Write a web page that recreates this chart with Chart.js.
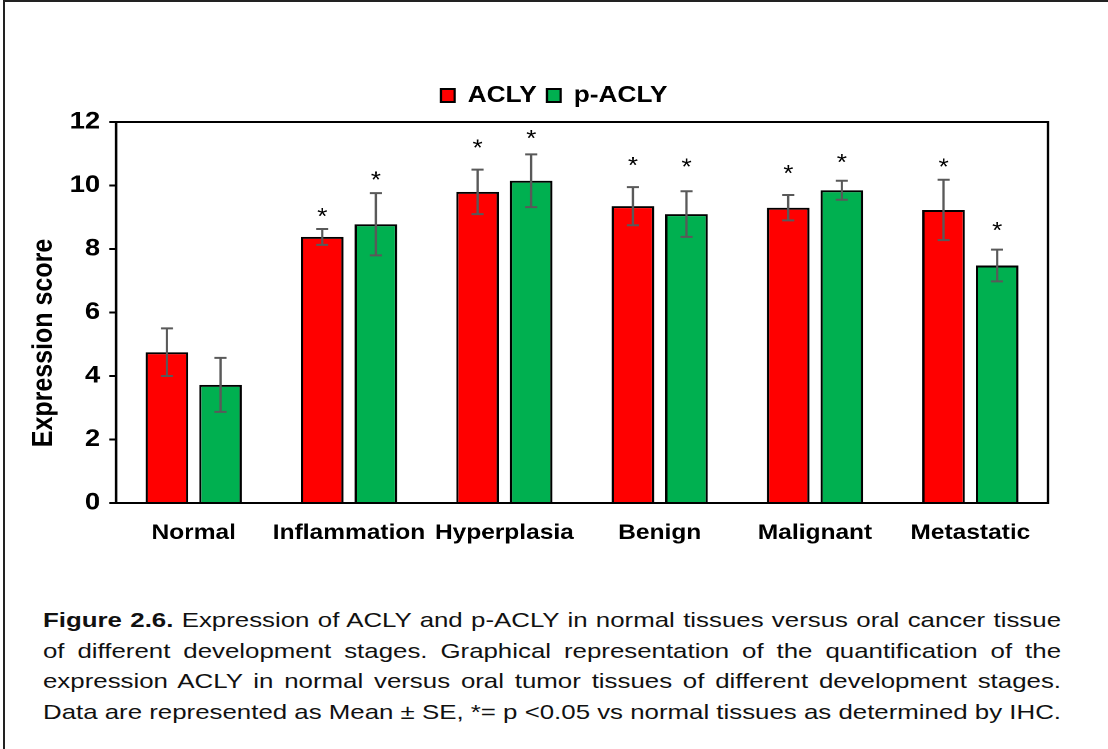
<!DOCTYPE html>
<html>
<head>
<meta charset="utf-8">
<script src="https://cdn.jsdelivr.net/npm/chart.js@4.4.1/dist/chart.umd.min.js"></script>
<style>
  html, body { margin: 0; padding: 0; background: #fff; }
  body { width: 1108px; height: 749px; position: relative; overflow: hidden; font-family: "Liberation Sans", Arial, sans-serif; }
  #frame { position: absolute; left: 3px; top: 0px; width: 1200px; height: 800px; border-left: 2px solid #222; border-top: 2px solid #222; }
  /* the figure is laid out narrow and widened 1.14x, giving its wide lettering */
  #wrap { position: absolute; left: 0; top: 0; width: 972px; height: 560px; transform: scaleX(1.14); transform-origin: 0 0; }
  #caption { position: absolute; left: 43px; top: 605px; width: 893px; font-size: 21px; line-height: 30.5px; color: #111;
             transform: scaleX(1.14); transform-origin: 0 0; }
  #caption div { text-align: justify; text-align-last: justify; white-space: nowrap; }
  #caption b { font-weight: bold; }
  .probe { position: absolute; visibility: hidden; white-space: nowrap; font-size: 21px; font-family: "Liberation Sans", Arial, sans-serif; }
</style>
</head>
<body>
<div id="frame"></div>
<div id="wrap"><canvas id="chart"></canvas></div>
<div id="caption">
  <div><b>Figure 2.6.</b> Expression of ACLY and p-ACLY in normal tissues versus oral cancer tissue</div>
  <div>of different development stages. Graphical representation of the quantification of the</div>
  <div>expression ACLY in normal versus oral tumor tissues of different development stages.</div>
  <div>Data are represented as Mean ± SE, *= p &lt;0.05 vs normal tissues as determined by IHC.</div>
</div>
<script>
// Tissue stages on the x axis
const categories = ['Normal', 'Inflammation', 'Hyperplasia', 'Benign', 'Malignant', 'Metastatic'];

// Mean expression score and standard error per stage
const aclyMean  = [4.75, 8.38, 9.80, 9.35, 9.30, 9.23];
const aclySE    = [0.75, 0.25, 0.70, 0.60, 0.40, 0.95];
const paclyMean = [3.72, 8.78, 10.15, 9.10, 9.85, 7.48];
const paclySE   = [0.85, 0.98, 0.83, 0.72, 0.30, 0.50];

// Height (in score units) of the significance asterisk above each bar; null = not significant
const aclyStar  = [null, 9.20, 11.35, 10.80, 10.55, 10.75];
const paclyStar = [null, 10.35, 11.65, 10.75, 10.90, 8.75];

// Y axis range, step and title
const yMin = 0, yMax = 12, yStep = 2;
const yTitle = 'Expression score';

const FONT = '"Liberation Sans", Arial, sans-serif';
const LEGEND_HEIGHT = 47;
const LEGEND_SHIFT = 26.5;

// Caption: fit the widest line to the text block width, the others are justified
(function fitCaption() {
  const cap = document.getElementById('caption');
  const lines = cap.querySelectorAll('div');
  let maxW = 0;
  lines.forEach(l => {
    const p = document.createElement('span');
    p.className = 'probe';
    p.innerHTML = l.innerHTML;
    document.body.appendChild(p);
    maxW = Math.max(maxW, p.getBoundingClientRect().width);
    p.remove();
  });
  cap.style.width = maxW + 'px';
  cap.style.transform = 'scaleX(' + (1018 / maxW) + ')';
})();

// Error bars, asterisks, axis title and the box around the plot area
const annotatePlugin = {
  id: 'annotate',
  afterInit(chart) {
    // fixed legend block height so the item spacing stays tight
    const lg = chart.legend;
    if (lg && !lg._fixedFit) {
      const fit = lg.fit;
      lg.fit = function () { fit.call(this); this.height = LEGEND_HEIGHT; };
      lg._fixedFit = true;
    }
  },
  afterLayout(chart) {
    // center the legend on the whole figure rather than on the plot column
    const lg = chart.legend;
    if (lg) { lg.left += LEGEND_SHIFT; lg.right += LEGEND_SHIFT; }
  },
  afterDatasetsDraw(chart) {
    const ctx = chart.ctx;
    const yScale = chart.scales.y;
    chart.data.datasets.forEach((ds, di) => {
      const meta = chart.getDatasetMeta(di);
      meta.data.forEach((bar, i) => {
        const m = ds.data[i], se = ds.errors[i];
        const yTop = yScale.getPixelForValue(m + se);
        const yBot = yScale.getPixelForValue(m - se);
        ctx.save();
        ctx.strokeStyle = '#595959';
        ctx.lineWidth = 2;
        ctx.beginPath();
        ctx.moveTo(bar.x, yTop); ctx.lineTo(bar.x, yBot);
        ctx.moveTo(bar.x - 5.3, yTop); ctx.lineTo(bar.x + 5.3, yTop);
        ctx.moveTo(bar.x - 5.3, yBot); ctx.lineTo(bar.x + 5.3, yBot);
        ctx.stroke();
        const s = ds.stars[i];
        if (s !== null && s !== undefined) {
          ctx.fillStyle = '#000';
          ctx.font = '23px ' + FONT;
          ctx.textAlign = 'center';
          ctx.textBaseline = 'alphabetic';
          ctx.fillText('*', bar.x, yScale.getPixelForValue(s) + 13);
        }
        ctx.restore();
      });
    });
    const a = chart.chartArea;
    ctx.save();
    ctx.strokeStyle = '#000';
    ctx.lineWidth = 2;
    ctx.strokeRect(a.left, a.top, a.right - a.left, a.bottom - a.top);
    // rotated y axis title
    ctx.translate(38.6, 343);
    ctx.rotate(-Math.PI / 2);
    ctx.fillStyle = '#000';
    ctx.font = 'bold 25px ' + FONT;
    ctx.textAlign = 'center';
    ctx.textBaseline = 'middle';
    ctx.fillText(yTitle, 0, 0);
    ctx.restore();
  }
};

new Chart(document.getElementById('chart'), {
  type: 'bar',
  data: {
    labels: categories,
    datasets: [
      { label: 'ACLY', data: aclyMean, errors: aclySE, stars: aclyStar,
        backgroundColor: '#FF0000', borderColor: '#000', borderWidth: 2 },
      { label: 'p-ACLY', data: paclyMean, errors: paclySE, stars: paclyStar,
        backgroundColor: '#00B050', borderColor: '#000', borderWidth: 2 }
    ]
  },
  options: {
    responsive: true,
    maintainAspectRatio: false,
    animation: false,
    devicePixelRatio: 2,
    layout: { padding: { top: 75, right: 52.7, bottom: 10, left: 0 } },
    datasets: { bar: { categoryPercentage: 0.69, barPercentage: 0.795 } },
    plugins: {
      legend: {
        position: 'top',
        labels: {
          font: { family: FONT, size: 23, weight: 'bold' },
          color: '#000',
          boxWidth: 12, boxHeight: 13,
          padding: 9
        }
      },
      tooltip: { enabled: false }
    },
    scales: {
      x: {
        grid: { display: false, drawTicks: false },
        border: { display: true, color: '#000', width: 2 },
        ticks: { font: { family: FONT, size: 21.5, weight: 'bold' }, color: '#000', padding: 17, maxRotation: 0, autoSkip: false },
        afterFit(scale) { scale.height = 47; }
      },
      y: {
        min: yMin, max: yMax,
        ticks: { stepSize: yStep, font: { family: FONT, size: 24, weight: 'bold' }, color: '#000', padding: 8 },
        grid: { drawOnChartArea: false, drawTicks: true, tickLength: 6, tickWidth: 2, tickColor: '#000', color: '#000' },
        border: { display: true, color: '#000', width: 2 },
        title: { display: false },
        afterFit(scale) { scale.width = 101.8; }
      }
    }
  },
  plugins: [annotatePlugin]
});
</script>
</body>
</html>
